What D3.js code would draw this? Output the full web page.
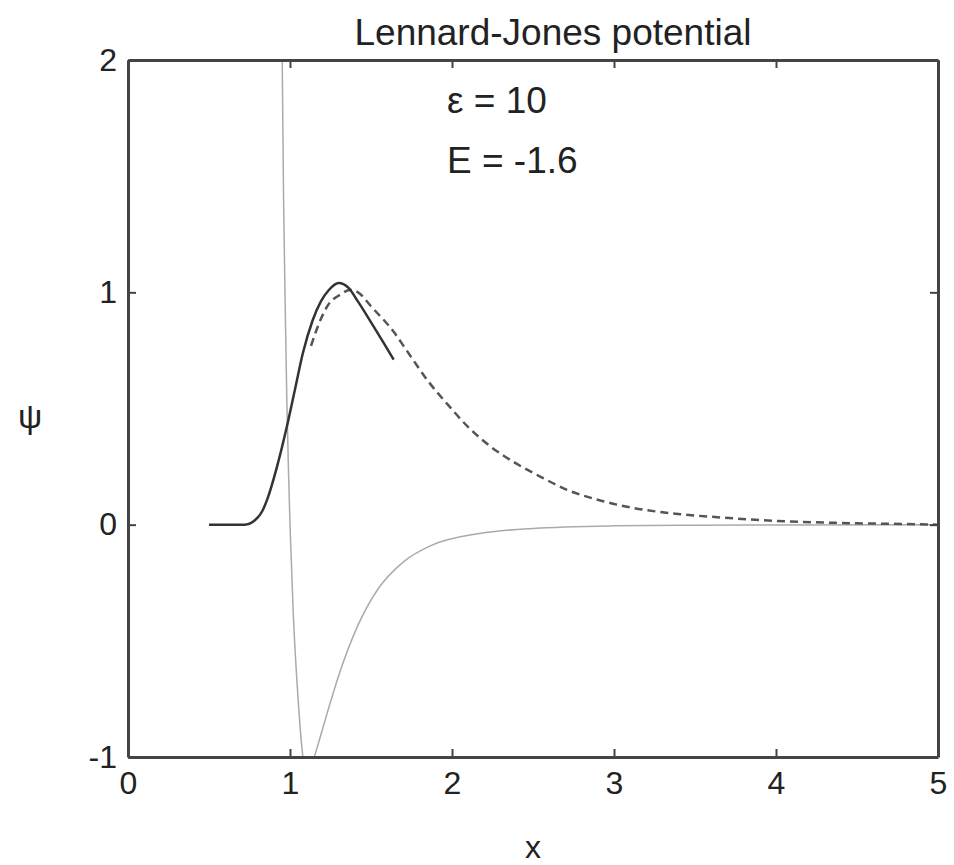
<!DOCTYPE html>
<html>
<head>
<meta charset="utf-8">
<script src="https://cdn.jsdelivr.net/npm/d3@7"></script>
<style>
  body { margin: 0; background: #fff; }
  text { font-family: "Liberation Sans", Arial, sans-serif; fill: #222; }
</style>
</head>
<body>
<div id="viewer"></div>
<script>
// axis ticks
const xTicks = [0, 1, 2, 3, 4, 5];
const yTicks = [-1, 0, 1, 2];

// psi integrated from the left (solid)
const psiLeftX = [0.50, 0.72, 0.80, 0.83, 0.86, 0.92, 0.98, 1.03, 1.08, 1.14, 1.19, 1.24, 1.30, 1.36, 1.42, 1.51, 1.58, 1.64];
const psiLeftY = [0.00, 0.00, 0.03, 0.06, 0.11, 0.25, 0.42, 0.58, 0.74, 0.88, 0.96, 1.01, 1.04, 1.02, 0.96, 0.86, 0.78, 0.71];

// psi integrated from the right (dashed)
const psiRightX = [1.13, 1.17, 1.23, 1.31, 1.37, 1.42, 1.50, 1.64, 1.72, 1.85, 1.97, 2.10, 2.24, 2.38, 2.55, 2.71, 2.90, 3.08, 3.41, 3.64, 3.95, 4.36, 4.77, 5.00];
const psiRightY = [0.77, 0.85, 0.94, 0.99, 1.01, 1.00, 0.94, 0.83, 0.75, 0.62, 0.52, 0.42, 0.335, 0.27, 0.205, 0.15, 0.107, 0.077, 0.045, 0.032, 0.018, 0.008, 0.003, 0.0];

// Lennard-Jones potential (light grey)
const potX = [0.94, 0.952, 0.96, 0.97, 0.98, 0.99, 1.00, 1.02, 1.05, 1.08, 1.11, 1.145, 1.18, 1.23, 1.31, 1.415, 1.54, 1.70, 1.87, 2.17, 2.50, 3.00, 3.50, 4.00, 5.00];
const potY = [2.60, 2.00, 1.42, 0.96, 0.55, 0.25, 0.00, -0.38, -0.75, -1.00, -1.07, -1.01, -0.93, -0.81, -0.63, -0.44, -0.28, -0.16, -0.09, -0.038, -0.016, -0.005, -0.002, -0.001, 0.0];

const labels = ['\u03b5 = 10', 'E = -1.6'];

const width = 954, height = 865;
const margin = { left: 128, right: 16, top: 60, bottom: 108 };
const innerW = width - margin.left - margin.right;
const innerH = height - margin.top - margin.bottom;

const x = d3.scaleLinear().domain([0, 5]).range([0, innerW]);
const y = d3.scaleLinear().domain([-1, 2]).range([innerH, 0]);

const svg = d3.select('#viewer').append('svg')
    .attr('width', width)
    .attr('height', height);

svg.append('defs').append('clipPath').attr('id', 'plotClip')
    .append('rect').attr('width', innerW).attr('height', innerH);

const g = svg.append('g').attr('transform', `translate(${margin.left},${margin.top})`);

const line = d3.line()
    .x(d => x(d[0]))
    .y(d => y(d[1]))
    .curve(d3.curveMonotoneX);

const plot = g.append('g').attr('clip-path', 'url(#plotClip)');

plot.append('path')
    .datum(potX.map((v, i) => [v, potY[i]]))
    .attr('d', line)
    .attr('fill', 'none')
    .attr('stroke', '#aaa')
    .attr('stroke-width', 1.5);

plot.append('path')
    .datum(psiRightX.map((v, i) => [v, psiRightY[i]]))
    .attr('d', line)
    .attr('fill', 'none')
    .attr('stroke', '#555')
    .attr('stroke-width', 2.5)
    .attr('stroke-dasharray', '8,5');

plot.append('path')
    .datum(psiLeftX.map((v, i) => [v, psiLeftY[i]]))
    .attr('d', line)
    .attr('fill', 'none')
    .attr('stroke', '#333')
    .attr('stroke-width', 2.5);

// axes, ticks pointing inwards on all four sides
const tickLen = 8;
const fmt = d => String(d);
const xAxisB = d3.axisBottom(x).tickValues(xTicks).tickSizeInner(-tickLen).tickSizeOuter(0).tickPadding(14).tickFormat(fmt);
const xAxisT = d3.axisTop(x).tickValues(xTicks).tickSizeInner(-tickLen).tickSizeOuter(0).tickFormat('');
const yAxisL = d3.axisLeft(y).tickValues(yTicks).tickSizeInner(-tickLen).tickSizeOuter(0).tickPadding(11).tickFormat(fmt);
const yAxisR = d3.axisRight(y).tickValues(yTicks).tickSizeInner(-tickLen).tickSizeOuter(0).tickFormat('');

g.append('g').attr('transform', `translate(0,${innerH})`).call(xAxisB);
g.append('g').call(xAxisT);
g.append('g').call(yAxisL);
g.append('g').attr('transform', `translate(${innerW},0)`).call(yAxisR);

g.selectAll('.domain').attr('stroke', '#444').attr('stroke-width', 3);
g.selectAll('.tick line').attr('stroke', '#444').attr('stroke-width', 2);
g.selectAll('.tick text').style('font-size', '32px').attr('fill', '#222');

svg.append('text')
    .attr('x', 553).attr('y', 45)
    .attr('text-anchor', 'middle')
    .style('font-size', '37px')
    .text('Lennard-Jones potential');

svg.append('text')
    .attr('x', margin.left + innerW / 2).attr('y', 858)
    .attr('text-anchor', 'middle')
    .style('font-size', '32px')
    .text('x');

svg.append('text')
    .attr('x', 30).attr('y', 428)
    .attr('text-anchor', 'middle')
    .style('font-size', '34px')
    .text('\u03c8');

labels.forEach((t, i) => {
    svg.append('text')
        .attr('x', 447).attr('y', 113 + i * 60)
        .style('font-size', '37px')
        .text(t);
});
</script>
</body>
</html>
